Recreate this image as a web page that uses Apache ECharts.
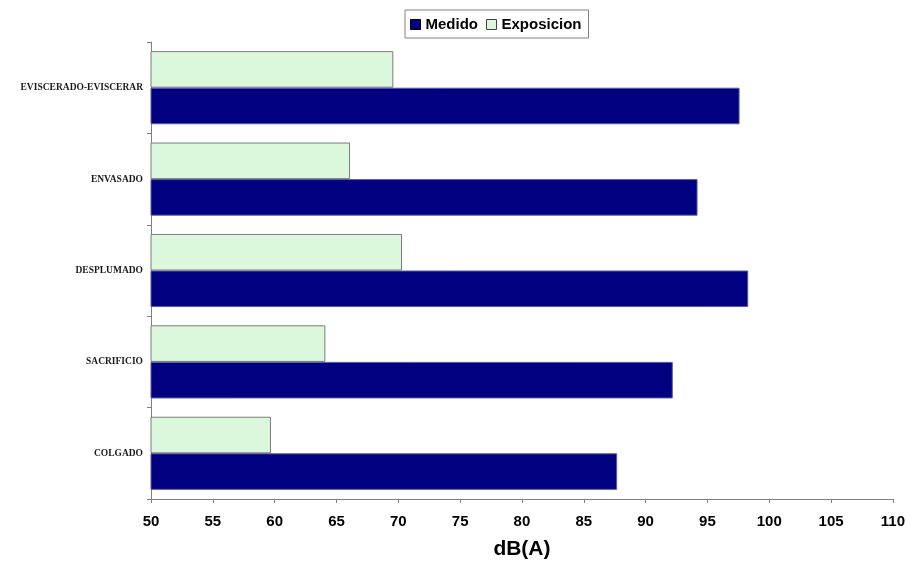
<!DOCTYPE html>
<html>
<head>
<meta charset="utf-8">
<script src="https://cdn.jsdelivr.net/npm/echarts@6/dist/echarts.min.js"></script>
<style>
  html, body { margin: 0; padding: 0; background: #ffffff; }
  #chart { width: 908px; height: 565px; }
</style>
</head>
<body>
<div id="chart"></div>
<script>
// Work areas of the plant, listed bottom to top along the vertical axis
const areas = ['COLGADO', 'SACRIFICIO', 'DESPLUMADO', 'ENVASADO', 'EVISCERADO-EVISCERAR'];
// Measured sound level, dB(A)
const medido = [87.7, 92.2, 98.3, 94.2, 97.6];
// Exposure level, dB(A)
const exposicion = [59.7, 64.1, 70.3, 66.1, 69.6];
// Horizontal axis range
const xMin = 50, xMax = 110, xStep = 5;

const chart = echarts.init(document.getElementById('chart'), null, { renderer: 'canvas' });

chart.setOption({
  backgroundColor: '#ffffff',
  animation: false,
  legend: {
    top: 10,
    left: 405,
    padding: [7, 7, 6, 5],
    itemGap: 8,
    itemWidth: 10,
    itemHeight: 10,
    borderColor: '#808080',
    borderWidth: 1,
    icon: 'rect',
    textStyle: { fontFamily: 'Liberation Sans, Arial, sans-serif', fontWeight: 'bold', fontSize: 15, color: '#000' },
    data: [
      { name: 'Medido', itemStyle: { color: '#000080', borderColor: '#000000', borderWidth: 1 } },
      { name: 'Exposicion', itemStyle: { color: '#dcf8dc', borderColor: '#404040', borderWidth: 1 } }
    ]
  },
  grid: { left: 151, right: 15, top: 42, bottom: 60, containLabel: false },
  xAxis: {
    type: 'value',
    min: xMin,
    max: xMax,
    interval: xStep,
    name: 'dB(A)',
    nameLocation: 'middle',
    nameGap: 40,
    nameTextStyle: { fontFamily: 'Liberation Sans, Arial, sans-serif', fontWeight: 'bold', fontSize: 21, color: '#000' },
    axisLine: { show: true, lineStyle: { color: '#808080', width: 1 } },
    axisTick: { show: true, length: 4, lineStyle: { color: '#808080' } },
    axisLabel: { margin: 15, fontFamily: 'Liberation Sans, Arial, sans-serif', fontWeight: 'bold', fontSize: 15, color: '#000' },
    splitLine: { show: false }
  },
  yAxis: {
    type: 'category',
    data: areas,
    axisLine: { show: true, lineStyle: { color: '#808080', width: 1 } },
    axisTick: { show: true, length: 4, inside: false, lineStyle: { color: '#808080' } },
    axisLabel: { margin: 8, fontFamily: 'Liberation Serif, Times New Roman, serif', fontWeight: 'bold', fontSize: 9.5, color: '#1a1a1a' },
    splitLine: { show: false }
  },
  // Exposicion is listed first so it sits above Medido inside each band
  series: [
    {
      name: 'Exposicion',
      type: 'bar',
      data: exposicion,
      barGap: '0%',
      barCategoryGap: '20%',
      itemStyle: { color: '#dcf8dc', borderColor: '#7a7a7a', borderWidth: 1 }
    },
    {
      name: 'Medido',
      type: 'bar',
      data: medido,
      barGap: '0%',
      barCategoryGap: '20%',
      itemStyle: { color: '#000080', borderColor: '#5a5a9a', borderWidth: 1 }
    }
  ]
});
</script>
</body>
</html>
